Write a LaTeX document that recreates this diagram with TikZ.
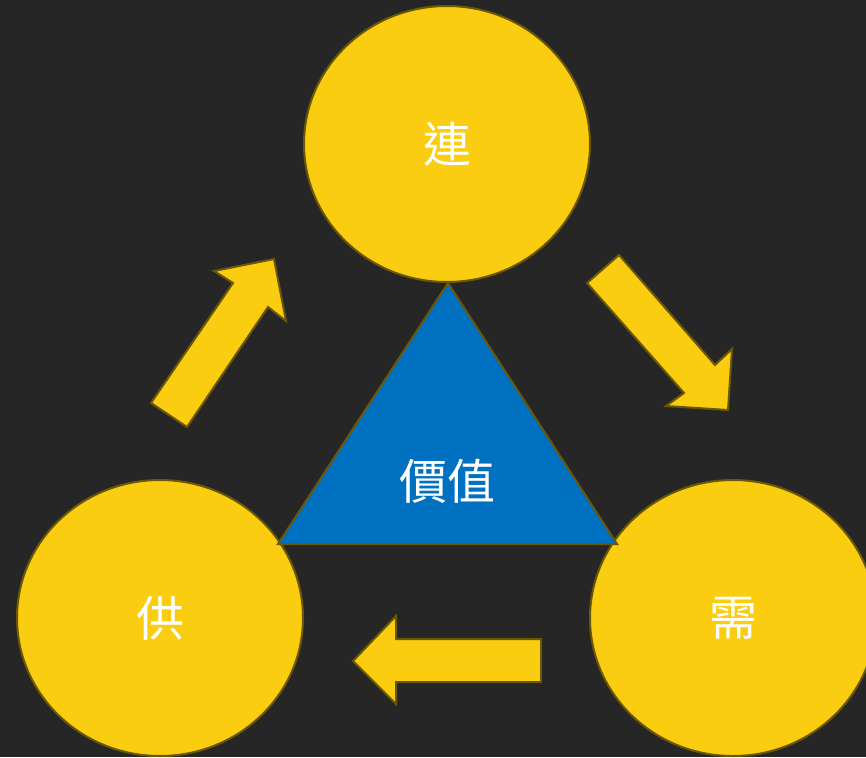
\documentclass[tikz,border=0pt]{standalone}
\usepackage{fontspec}
\newfontfamily\cjk{Noto Sans CJK TC}
\usetikzlibrary{shapes.geometric}
\definecolor{bgc}{HTML}{262626}
\definecolor{gold}{HTML}{FACD10}
\definecolor{olive}{HTML}{6B5708}
\definecolor{tblue}{HTML}{0070C0}
\tikzset{
  circ/.style={ellipse, draw=olive, line width=2pt, fill=gold, minimum width=286pt, minimum height=276pt, inner sep=0pt, text=white, font=\cjk\fontsize{48}{52}\selectfont},
  blockarrow/.style={draw=olive, line width=2pt, fill=gold, line join=miter},
  tri/.style={draw=olive, line width=2pt, fill=tblue, line join=miter},
  lbl/.style={text=white, font=\cjk\fontsize{48}{52}\selectfont, inner sep=0pt}
}
\begin{document}
\begin{tikzpicture}[x=1pt, y=-1pt]
\useasboundingbox (0,0) rectangle (866,757);
\clip (0,0) rectangle (866,757);
\fill[bgc] (0,0) rectangle (866,757);
\node[circ] (lian) at (447,144) {連};
\node[circ] (gong) at (160,618) {供};
\node[circ] (xu) at (733,618) {需};
\coordinate (tA) at (448,283);
\coordinate (tB) at (278,544);
\coordinate (tC) at (617,544);
\draw[tri] (tA) -- (tB) -- (tC) -- cycle;
\node[lbl] (jiazhi) at (447,481) {價值};
% up-right arrow
\draw[blockarrow] (151,403) -- (233,283) -- (214,271) -- (274,259) -- (286,321) -- (268,307) -- (187,427) -- cycle;
% down-right arrow
\draw[blockarrow] (587,283) -- (619,255) -- (715,365) -- (732,349) -- (728,410) -- (666,406) -- (684,393) -- cycle;
% left arrow
\draw[blockarrow] (353,661) -- (396,616) -- (396,639) -- (541,639) -- (541,682) -- (396,682) -- (396,704) -- cycle;
\end{tikzpicture}
\end{document}
